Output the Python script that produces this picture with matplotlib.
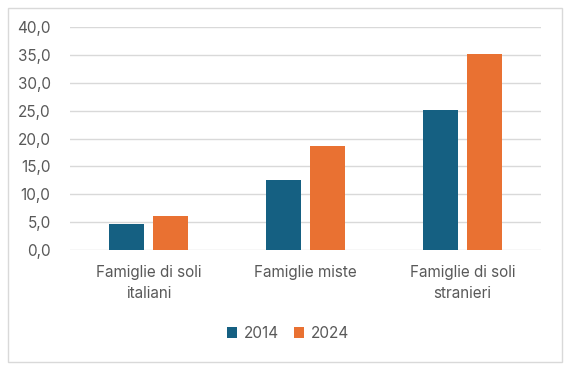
import numpy as np
import matplotlib
matplotlib.use("Agg")
import matplotlib.pyplot as plt
from matplotlib.patches import Rectangle
from matplotlib.ticker import FuncFormatter, MultipleLocator

# Data
categories = ['Famiglie di soli\nitaliani', 'Famiglie miste', 'Famiglie di soli\nstranieri']
series_names = ['2014', '2024']
values_2014 = [4.7, 12.6, 25.1]
values_2024 = [6.1, 18.7, 35.2]

colors = ['#156082', '#E97132']
text_color = '#595959'
plt.rcParams['font.family'] = ['Inter', 'DejaVu Sans']

fig = plt.figure(figsize=(5.72, 3.72), dpi=100)
ax = fig.add_axes([70 / 572, 1 - 250 / 372, 471 / 572, 223 / 372])

x = np.arange(len(categories))
w = 0.223
ax.bar(x - 0.143, values_2014, w, color=colors[0], label=series_names[0], zorder=3)
ax.bar(x + 0.143, values_2024, w, color=colors[1], label=series_names[1], zorder=3)

ax.set_xlim(-0.5, len(categories) - 0.5)
ax.set_ylim(0, 40)
ax.yaxis.set_major_locator(MultipleLocator(5))
ax.yaxis.set_major_formatter(FuncFormatter(lambda v, p: f'{v:.1f}'.replace('.', ',')))
ax.grid(axis='y', color='#D9D9D9', linewidth=1, zorder=0)
ax.set_xticks(x)
ax.set_xticklabels(categories, fontsize=11, color=text_color, linespacing=1.45)
ax.tick_params(axis='y', labelsize=11, labelcolor=text_color, length=0, pad=14)
ax.tick_params(axis='x', length=0, pad=11)
for s in ax.spines.values():
    s.set_visible(False)

leg = fig.legend(loc='center', bbox_to_anchor=(0.503, 0.103), ncol=2, frameon=False,
                 fontsize=11, handlelength=0.7, handleheight=0.7, columnspacing=1.0,
                 handletextpad=0.4)
for t in leg.get_texts():
    t.set_color(text_color)

# chart border
fig.patches.append(Rectangle((8 / 572, 10 / 372), 554 / 572, 354 / 372, transform=fig.transFigure,
                             fill=False, edgecolor='#D9D9D9', linewidth=1))

fig.savefig('out.png', dpi=100)
